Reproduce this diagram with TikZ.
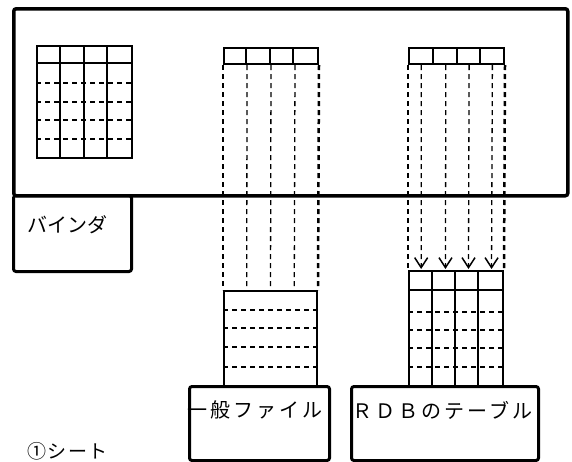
\documentclass[tikz,border=0pt]{standalone}
\usepackage{fontspec}
\newfontfamily\jp{Noto Sans CJK JP}
\usetikzlibrary{calc,arrows.meta}
\tikzset{
  thickbox/.style={draw, line width=3pt, rounded corners=2.5pt},
  tbl/.style={draw, line width=2pt, inner sep=0pt, anchor=north west},
  inner/.style={line width=1.5pt},
  rowdash/.style={line width=1.1pt, dash pattern=on 5pt off 4pt},
  coldash/.style={line width=1.3pt, dash pattern=on 5pt off 4pt},
  edgedash/.style={line width=2.5pt, dash pattern=on 5pt off 4pt},
  lbl/.style={font=\jp\fontsize{20}{22}\selectfont, inner sep=0pt},
}
\begin{document}
\begin{tikzpicture}[x=1pt,y=-1pt]
\useasboundingbox (0,0) rectangle (572,461);
% sheet and binder
\node[thickbox, line width=3.5pt, minimum width=554pt, minimum height=187pt, anchor=north west, inner sep=0pt] (sheet) at (12,7) {};
\node[thickbox, minimum width=118pt, minimum height=76pt, anchor=north west, inner sep=0pt] (binder) at (12,194) {};
\node[lbl, anchor=west] (bt) at (27,225) {バインダ};
% left table (in sheet)
\node[tbl, minimum width=95pt, minimum height=112pt] (lt) at (36,45) {};
\draw[tbl] (36,63) -- (131,63);
\foreach \x in {60,84,107} \draw[inner] (\x,45) -- (\x,157);
\foreach \y in {83,102,120,139} \draw[rowdash] (36,\y) -- (131,\y);
% middle header
\node[tbl, minimum width=94pt, minimum height=16pt] (mh) at (223,47) {};
\foreach \x in {246,270,293} \draw[inner] (\x,47) -- (\x,63);
% middle lower box (general file)
\node[tbl, minimum width=93pt, minimum height=95pt] (mb) at (223,290) {};
\foreach \y in {310,328,347,367} \draw[rowdash] (223,\y) -- (316,\y);
% middle dashed lines
\draw[edgedash] (mh.south west) -- (mb.north west);
\draw[edgedash] (mh.south east) -- (mb.north east);
\foreach \f in {0.25,0.5,0.75}
  \draw[coldash] ($(mh.south west)!\f!(mh.south east)$) -- ($(mb.north west)!\f!(mb.north east)$);
% right header
\node[tbl, minimum width=95pt, minimum height=16pt] (rh) at (408,47) {};
\foreach \x in {433,457,480} \draw[inner] (\x,47) -- (\x,63);
% right lower table (RDB)
\node[tbl, minimum width=94pt, minimum height=115pt] (rb) at (408,270) {};
\draw[tbl] (408,290) -- (502,290);
\foreach \x in {432,455,478} \draw[inner] (\x,270) -- (\x,385);
\foreach \y in {312,330,348,367} \draw[rowdash] (408,\y) -- (502,\y);
% right dashed lines with arrows
\draw[edgedash] (rh.south west) -- (rb.north west);
\draw[edgedash] (rh.south east) -- (rb.north east);
\foreach \f in {0.137,0.39,0.63,0.87}
  \draw[coldash, -{Straight Barb[length=10pt,width=13pt,line width=1.5pt]}] ($(rh.south west)!\f!(rh.south east)$) -- ($(rb.north west)!\f!(rb.north east)+(0,-1)$);
% label boxes
\node[thickbox, fill=white, minimum width=140pt, minimum height=74pt, anchor=north west, inner sep=0pt] (gf) at (188,385) {};
\node[lbl, anchor=west] (gft) at (187,410) {\addfontfeatures{LetterSpace=15}一般ファイル};
\node[thickbox, fill=white, minimum width=187pt, minimum height=74pt, anchor=north west, inner sep=0pt] (rdb) at (350,385) {};
\node[lbl, anchor=west] (rdbt) at (352,410) {\addfontfeatures{LetterSpace=15}ＲＤＢのテーブル};
% caption
\node[lbl, font=\jp\fontsize{19}{21}\selectfont, anchor=west] (cap) at (27,451) {\addfontfeatures{LetterSpace=8}①シート};
\end{tikzpicture}
\end{document}
